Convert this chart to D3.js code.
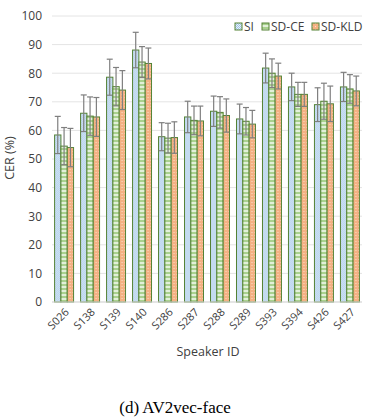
<!DOCTYPE html>
<html>
<head>
<meta charset="utf-8">
<script src="https://cdn.jsdelivr.net/npm/d3@7"></script>
<style>
  body { margin: 0; background: #fff; }
  svg text { font-family: "Open Sans", "Noto Sans", sans-serif; fill: #404040; }
</style>
</head>
<body>
<svg id="chart" width="375" height="417"></svg>
<script>

// data
var speakers = ["S026", "S138", "S139", "S140", "S286", "S287", "S288", "S289", "S393", "S394", "S426", "S427"];
var seriesNames = ["SI", "SD-CE", "SD-KLD"];
var siValues    = [58.4, 66.0, 78.6, 88.1, 57.8, 64.7, 66.7, 64.0, 81.8, 75.2, 69.0, 75.2];
var sdceValues  = [54.5, 65.0, 75.3, 83.9, 57.3, 63.5, 66.3, 63.2, 80.0, 72.6, 70.2, 74.5];
var sdkldValues = [54.0, 64.7, 74.1, 83.4, 57.5, 63.3, 65.2, 62.2, 79.0, 72.6, 69.3, 73.8];
var siErr    = [6.5, 6.4, 6.3, 6.2, 4.9, 5.5, 5.3, 5.2, 5.2, 4.8, 5.9, 5.1];
var sdceErr  = [6.5, 6.7, 6.7, 5.4, 5.2, 5.0, 5.5, 4.8, 5.0, 4.2, 6.3, 5.0];
var sdkldErr = [6.7, 6.8, 6.8, 5.4, 5.5, 5.2, 5.8, 4.8, 4.5, 4.2, 6.2, 5.2];
var yTicks = [0, 10, 20, 30, 40, 50, 60, 70, 80, 90, 100];

var values = [siValues, sdceValues, sdkldValues];
var errors = [siErr, sdceErr, sdkldErr];

var margin = {top: 16, right: 13, bottom: 115, left: 52},
    width = 375 - margin.left - margin.right,
    height = 417 - margin.top - margin.bottom;

var svg = d3.select("#chart");

// fill patterns for the three series
var defs = svg.append("defs");

var pSI = defs.append("pattern").attr("id", "pat0")
    .attr("patternUnits", "userSpaceOnUse").attr("width", 2).attr("height", 2);
pSI.append("rect").attr("width", 2).attr("height", 2).attr("fill", "#eaf2fa");
pSI.append("rect").attr("width", 1).attr("height", 1).attr("fill", "#9dc3e6");
pSI.append("rect").attr("x", 1).attr("y", 1).attr("width", 1).attr("height", 1).attr("fill", "#9dc3e6");

var pCE = defs.append("pattern").attr("id", "pat1")
    .attr("patternUnits", "userSpaceOnUse").attr("width", 4).attr("height", 4);
pCE.append("rect").attr("width", 4).attr("height", 4).attr("fill", "#e2f0d9");
pCE.append("rect").attr("width", 4).attr("height", 2).attr("fill", "#a9d18e");

var pKL = defs.append("pattern").attr("id", "pat2")
    .attr("patternUnits", "userSpaceOnUse").attr("width", 3).attr("height", 3);
pKL.append("rect").attr("width", 3).attr("height", 3).attr("fill", "#f4b183");
pKL.append("rect").attr("width", 1).attr("height", 1).attr("fill", "#fbe0cc");

var g = svg.append("g")
    .attr("transform", "translate(" + margin.left + "," + margin.top + ")");

var x0 = d3.scaleBand()
    .domain(speakers)
    .range([0, width])
    .paddingInner(0.27)
    .paddingOuter(0.1);

var x1 = d3.scaleBand()
    .domain(d3.range(3))
    .range([0, x0.bandwidth()]);

var y = d3.scaleLinear()
    .domain([0, 100])
    .range([height, 0]);

// gridlines
g.selectAll(".grid")
    .data(yTicks)
  .enter().append("line")
    .attr("x1", 0).attr("x2", width)
    .attr("y1", function(d) { return y(d); })
    .attr("y2", function(d) { return y(d); })
    .attr("stroke", "#e4e4e4")
    .attr("stroke-width", 1);

// y axis labels
var yAxis = d3.axisLeft(y).tickValues(yTicks).tickSize(0).tickPadding(10);
g.append("g").call(yAxis)
    .call(function(a) { a.select(".domain").remove(); })
    .selectAll("text")
      .style("font-size", "12px")
      .attr("fill", "#404040");

// bars
var groups = g.selectAll(".grp")
    .data(speakers)
  .enter().append("g")
    .attr("transform", function(d) { return "translate(" + x0(d) + ",0)"; });

groups.each(function(sp, i) {
  var grp = d3.select(this);
  for (var s = 0; s < 3; s++) {
    var v = values[s][i], e = errors[s][i];
    grp.append("rect")
      .attr("x", x1(s))
      .attr("y", y(v))
      .attr("width", x1.bandwidth())
      .attr("height", y(0) - y(v))
      .attr("fill", "url(#pat" + s + ")")
      .attr("stroke", "#548235")
      .attr("stroke-width", 1);
    // error bars
    var cx = x1(s) + x1.bandwidth() / 2;
    grp.append("line")
      .attr("x1", cx).attr("x2", cx)
      .attr("y1", y(v - e)).attr("y2", y(v + e))
      .attr("stroke", "#7f7f7f").attr("stroke-width", 1.2);
    [v - e, v + e].forEach(function(t) {
      grp.append("line")
        .attr("x1", cx - 3).attr("x2", cx + 3)
        .attr("y1", y(t)).attr("y2", y(t))
        .attr("stroke", "#7f7f7f").attr("stroke-width", 1.2);
    });
  }
});

// x axis baseline
g.append("line")
    .attr("x1", 0).attr("x2", width)
    .attr("y1", y(0)).attr("y2", y(0))
    .attr("stroke", "#d9d9d9");

// x labels rotated
g.selectAll(".xlab")
    .data(speakers)
  .enter().append("text")
    .attr("text-anchor", "end")
    .style("font-size", "11px")
    .attr("transform", function(d) {
      return "translate(" + (x0(d) + x0.bandwidth() / 2 + 3) + "," + (y(0) + 8) + ") rotate(-45)";
    })
    .attr("dy", "0.35em")
    .text(function(d) { return d; });

// axis titles
svg.append("text")
    .attr("x", 208).attr("y", 356)
    .attr("text-anchor", "middle")
    .style("font-size", "12.5px")
    .text("Speaker ID");

svg.append("text")
    .attr("transform", "translate(14,158) rotate(-90)")
    .attr("text-anchor", "middle")
    .style("font-size", "12.5px")
    .text("CER (%)");

// legend
var legendX = [235, 262, 312];
var legend = svg.selectAll(".leg")
    .data(seriesNames)
  .enter().append("g")
    .attr("transform", function(d, i) { return "translate(" + legendX[i] + ",23)"; });
legend.append("rect")
    .attr("width", 7).attr("height", 7)
    .attr("fill", function(d, i) { return "url(#pat" + i + ")"; })
    .attr("stroke", "#548235");
legend.append("text")
    .attr("x", 9).attr("y", 4).attr("dy", "0.35em")
    .style("font-size", "12px")
    .text(function(d) { return d; });

// caption
svg.append("text")
    .attr("x", 175).attr("y", 413)
    .attr("text-anchor", "middle")
    .style("font-family", "'Liberation Serif', serif")
    .style("font-size", "17px")
    .style("fill", "#000")
    .text("(d)  AV2vec-face");

</script>
</body>
</html>
